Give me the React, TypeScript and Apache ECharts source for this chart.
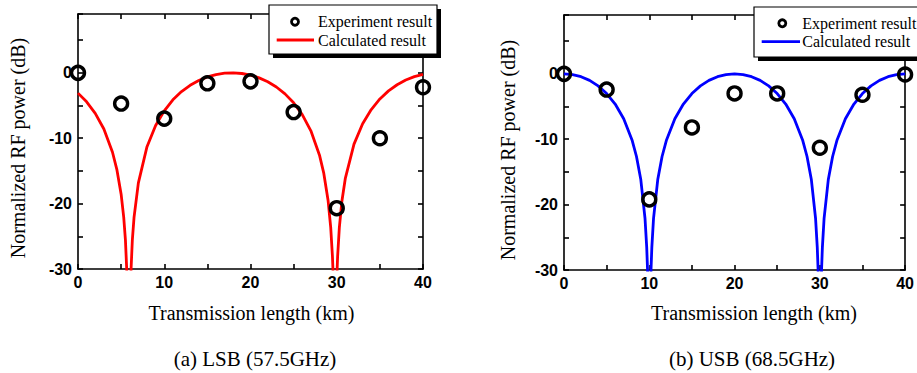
import React, { useEffect, useRef } from "react";
import * as echarts from "echarts";

// ---------- data ----------
const expX = [0, 5, 10, 15, 20, 25, 30, 35, 40];
const lsbExpY = [0, -4.7, -7.0, -1.6, -1.3, -6.0, -20.7, -10.0, -2.2];
const usbExpY = [0, -2.4, -19.2, -8.2, -3.0, -3.0, -11.3, -3.2, -0.1];

const lsbCalcX = [0, 1, 2, 3, 4, 4.5, 5, 5.3, 5.5, 5.7, 5.9, 6.1, 6.3, 6.5, 7, 8, 9, 10, 11, 12, 13, 14, 15, 16, 17, 18, 19, 20, 21, 22, 23, 24, 25, 26, 27, 28, 28.5, 29, 29.3, 29.5, 29.6, 29.8, 30.0, 30.1, 30.3, 30.6, 31, 32, 33, 34, 35, 36, 37, 38, 39, 40];
const lsbCalcY = [-3.10, -4.43, -6.19, -8.59, -12.14, -14.75, -18.56, -22.07, -25.59, -31.6, -60, -31.6, -25.59, -22.07, -16.83, -11.29, -8.04, -5.80, -4.13, -2.87, -1.90, -1.16, -0.62, -0.26, -0.05, 0, -0.10, -0.35, -0.77, -1.36, -2.16, -3.22, -4.58, -6.39, -8.87, -12.59, -15.38, -19.57, -23.64, -28.05, -31.5, -60, -31.6, -28.1, -23.66, -19.59, -16.09, -10.90, -7.78, -5.61, -3.99, -2.76, -1.82, -1.10, -0.58, -0.23];

const usbCalcX = [0, 1, 2, 3, 4, 5, 6, 7, 8, 8.5, 9, 9.5, 9.7, 9.8, 9.9, 10, 10.1, 10.2, 10.3, 10.5, 11, 11.5, 12, 13, 14, 15, 16, 17, 18, 19, 20, 21, 22, 23, 24, 25, 26, 27, 28, 28.5, 29, 29.5, 29.7, 29.8, 29.9, 30, 30.1, 30.2, 30.3, 30.5, 31, 31.5, 32, 33, 34, 35, 36, 37, 38, 39, 40];
const usbCalcY = [0, -0.11, -0.44, -1.00, -1.84, -3.01, -4.62, -6.86, -10.20, -12.64, -16.11, -22.11, -26.54, -30.06, -36.08, -60, -36.08, -30.06, -26.54, -22.11, -16.11, -12.64, -10.20, -6.86, -4.62, -3.01, -1.84, -1.00, -0.44, -0.11, 0, -0.11, -0.44, -1.00, -1.84, -3.01, -4.62, -6.86, -10.20, -12.64, -16.11, -22.11, -26.54, -30.06, -36.08, -60, -36.08, -30.06, -26.54, -22.11, -16.11, -12.64, -10.20, -6.86, -4.62, -3.01, -1.84, -1.00, -0.44, -0.11, 0];

const xMin = 0, xMax = 40, xStep = 5;
const yMin = -30, yMax = 9, yStep = 5;

const yTitle = "Normalized RF power (dB)";
const xTitle = "Transmission length (km)";
const captions = ["(a) LSB (57.5GHz)", "(b) USB (68.5GHz)"];
const legendNames = ["Experiment result", "Calculated result"];
const curveColors = ["#ff0000", "#0000ff"];

const pair = (xs: number[], ys: number[]) => xs.map((x, i) => [x, ys[i]]);

export default function App() {
  const ref = useRef<HTMLDivElement>(null);
  useEffect(() => {
    if (!ref.current) return;
    const chart = echarts.init(ref.current, undefined, { renderer: "svg" });
    const axisLineStyle = { color: "#000", width: 1.6 };
    const tickLabel = {
      fontFamily: "'Liberation Sans', Arial, sans-serif",
      fontWeight: "bold" as const,
      fontSize: 16,
      color: "#000",
    };
    const grids = [
      { left: 78, top: 14, width: 345, height: 255 },
      { left: 564, top: 15, width: 346, height: 255 },
    ];
    const xAxes: any[] = [];
    const yAxes: any[] = [];
    grids.forEach((_, gi) => {
      ["bottom", "top"].forEach((pos) => {
        xAxes.push({
          type: "value",
          gridIndex: gi,
          position: pos,
          min: xMin,
          max: xMax,
          interval: xStep,
          axisLine: { onZero: false, lineStyle: axisLineStyle },
          axisTick: { inside: true, length: 5, lineStyle: axisLineStyle },
          splitLine: { show: false },
          axisLabel: {
            show: pos === "bottom",
            margin: 5,
            ...tickLabel,
            formatter: (v: number) => (v % 10 === 0 ? String(v) : ""),
          },
        });
      });
      ["left", "right"].forEach((pos) => {
        yAxes.push({
          type: "value",
          gridIndex: gi,
          position: pos,
          min: yMin,
          max: yMax,
          interval: yStep,
          axisLine: { onZero: false, lineStyle: axisLineStyle },
          axisTick: { inside: true, length: 5, lineStyle: axisLineStyle },
          splitLine: { show: false },
          axisLabel: {
            show: pos === "left",
            margin: 6,
            ...tickLabel,
            formatter: (v: number) => (v % 10 === 0 ? String(v) : ""),
          },
        });
      });
    });

    const calc = [pair(lsbCalcX, lsbCalcY), pair(usbCalcX, usbCalcY)];
    const exp = [pair(expX, lsbExpY), pair(expX, usbExpY)];
    const series: any[] = [];
    [0, 1].forEach((gi) => {
      series.push({
        type: "line",
        name: legendNames[1],
        xAxisIndex: gi * 2,
        yAxisIndex: gi * 2,
        data: calc[gi],
        showSymbol: false,
        symbol: "none",
        smooth: false,
        clip: true,
        lineStyle: { color: curveColors[gi], width: 2.8, opacity: 1 },
        z: 2,
      });
      series.push({
        type: "scatter",
        name: legendNames[0],
        xAxisIndex: gi * 2,
        yAxisIndex: gi * 2,
        data: exp[gi],
        symbol: "circle",
        symbolSize: 13,
        clip: false,
        itemStyle: { color: "rgba(255,255,255,0)", borderColor: "#000", borderWidth: 3.4, opacity: 1 },
        z: 3,
      });
    });

    const serif = "'Liberation Serif', 'Times New Roman', serif";
    const graphic: any[] = [];
    const titleCenters = [
      { yx: 18, yy: 148, xx: 251.5, xy: 313, cx: 255, cy: 359 },
      { yx: 508, yy: 150, xx: 754, xy: 313, cx: 752, cy: 359 },
    ];
    titleCenters.forEach((t, gi) => {
      graphic.push({
        type: "text", x: t.yx, y: t.yy, rotation: Math.PI / 2,
        style: { text: yTitle, font: `20px ${serif}`, fill: "#000", textAlign: "center", textVerticalAlign: "middle" },
      });
      graphic.push({
        type: "text", x: t.xx, y: t.xy,
        style: { text: xTitle, font: `20px ${serif}`, fill: "#000", textAlign: "center", textVerticalAlign: "middle" },
      });
      graphic.push({
        type: "text", x: t.cx, y: t.cy,
        style: { text: captions[gi], font: `21px ${serif}`, fill: "#000", textAlign: "center", textVerticalAlign: "middle" },
      });
    });
    const legends = [
      { bx: 269, by: 5, bw: 168, bh: 49, cx: 295, cy: 21.7, lx1: 276.7, lx2: 314, ly: 40, tx: 318 },
      { bx: 754, by: 7, bw: 170, bh: 50, cx: 782.3, cy: 23.3, lx1: 761.7, lx2: 800, ly: 41.7, tx: 802.3 },
    ];
    legends.forEach((l, gi) => {
      graphic.push({
        type: "rect", z: 100, shape: { x: l.bx + 4, y: l.by + 4, width: l.bw, height: l.bh },
        style: { fill: "#000" },
      });
      graphic.push({
        type: "rect", z: 101, shape: { x: l.bx, y: l.by, width: l.bw, height: l.bh },
        style: { fill: "#fff", stroke: "#000", lineWidth: 1.2 },
      });
      graphic.push({
        type: "circle", z: 102, shape: { cx: l.cx, cy: l.cy, r: 3.5 },
        style: { fill: "none", stroke: "#000", lineWidth: 2.8 },
      });
      graphic.push({
        type: "line", z: 102, shape: { x1: l.lx1, y1: l.ly, x2: l.lx2, y2: l.ly },
        style: { stroke: curveColors[gi], lineWidth: 2.8 },
      });
      graphic.push({
        type: "text", z: 102, x: l.tx, y: l.cy,
        style: { text: legendNames[0], font: `16px ${serif}`, fill: "#000", textAlign: "left", textVerticalAlign: "middle" },
      });
      graphic.push({
        type: "text", z: 102, x: l.tx, y: l.ly,
        style: { text: legendNames[1], font: `16px ${serif}`, fill: "#000", textAlign: "left", textVerticalAlign: "middle" },
      });
    });

    chart.setOption({
      animation: false,
      backgroundColor: "#fff",
      grid: grids,
      xAxis: xAxes,
      yAxis: yAxes,
      series,
      graphic,
    });
    return () => chart.dispose();
  }, []);
  return (
    <div
      ref={ref}
      style={{ position: "absolute", left: 0, top: 0, width: 917, height: 373 }}
    />
  );
}
